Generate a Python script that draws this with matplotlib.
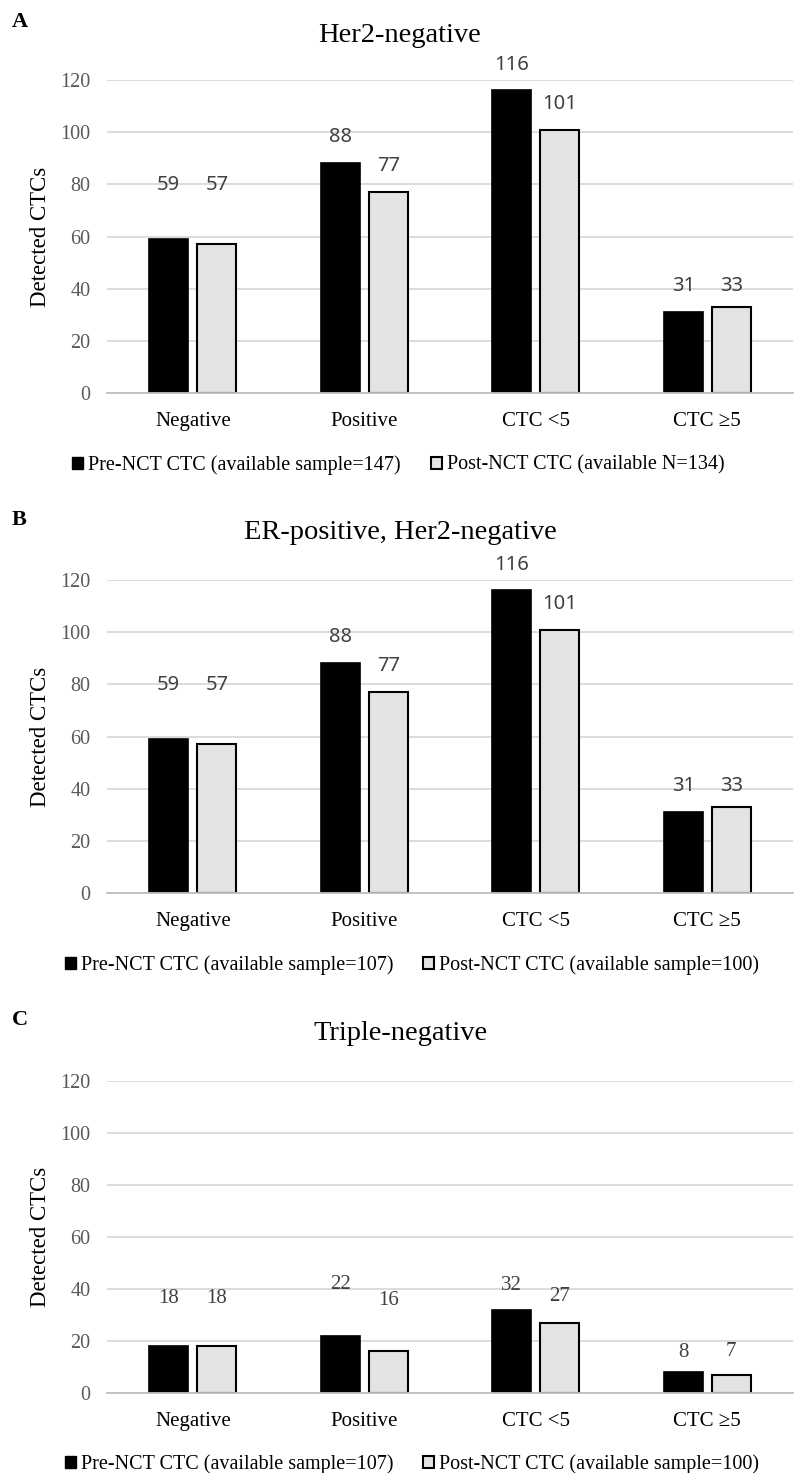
import matplotlib
matplotlib.use("Agg")
import matplotlib.pyplot as plt
from matplotlib.patches import Patch

categories = ["Negative", "Positive", "CTC <5", "CTC \u22655"]
titles = ["Her2-negative", "ER-positive, Her2-negative", "Triple-negative"]
letters = ["A", "B", "C"]
pre_values = [[59, 88, 116, 31], [59, 88, 116, 31], [18, 22, 32, 8]]
post_values = [[57, 77, 101, 33], [57, 77, 101, 33], [18, 16, 27, 7]]
pre_labels = ["Pre-NCT CTC (available sample=147)",
              "Pre-NCT CTC (available sample=107)",
              "Pre-NCT CTC (available sample=107)"]
post_labels = ["Post-NCT CTC (available N=134)",
               "Post-NCT CTC (available sample=100)",
               "Post-NCT CTC (available sample=100)"]
yticks = [0, 20, 40, 60, 80, 100, 120]

# label offsets above bar tops (pixels), style only
pre_off = [[54, 26, 25, 26], [54, 26, 25, 26], [48, 51, 24, 20]]
post_off = [[59, 26, 26, 21], [59, 26, 26, 21], [48, 51, 26, 23]]

W, H = 794, 1473
fig = plt.figure(figsize=(W / 100, H / 100), dpi=100)
serif = "Liberation Serif"
sans = "Noto Sans"

panel_bottoms = [393, 893, 1393]
panel_tops = [80, 580, 1081]
left_px, right_px = 107, 793
bw = 0.225
off = 0.14

for i in range(3):
    b, t = panel_bottoms[i], panel_tops[i]
    ax = fig.add_axes([left_px / W, 1 - b / H, (right_px - left_px) / W, (b - t) / H])
    x = list(range(len(categories)))
    xp = [v - off for v in x]
    xq = [v + off for v in x]
    bars1 = ax.bar(xp, pre_values[i], width=bw, color="black", edgecolor="black", linewidth=1.2, zorder=3)
    bars2 = ax.bar(xq, post_values[i], width=bw, color="#e3e3e3", edgecolor="black", linewidth=1.5, zorder=3)
    ax.set_xlim(-0.5, 3.5)
    ax.set_ylim(0, 120)
    ax.set_yticks(yticks)
    ax.set_yticklabels([str(v) for v in yticks], family=serif, fontsize=14.5, color="#595959")
    ax.set_xticks(x)
    ax.set_xticklabels(categories, family=serif, fontsize=15, color="black")
    ax.tick_params(axis="both", length=0)
    ax.tick_params(axis="x", pad=14)
    ax.tick_params(axis="y", pad=12)
    ax.grid(axis="y", color="#d9d9d9", linewidth=1.3, zorder=0)
    ax.set_axisbelow(True)
    for s in ["top", "right", "left"]:
        ax.spines[s].set_visible(False)
    ax.spines["bottom"].set_color("#bfbfbf")
    ax.spines["bottom"].set_linewidth(1.3)
    ax.spines["bottom"].set_zorder(4)
    ax.set_ylabel("Detected CTCs", family=serif, fontsize=16.5)
    ax.yaxis.set_label_coords(-0.082, 0.5)

    lab_font = serif if i == 2 else sans
    lab_size = 15 if i == 2 else 14.5
    for j, (bar, v) in enumerate(zip(bars1, pre_values[i])):
        ax.annotate(str(v), (bar.get_x() + bar.get_width() / 2, v),
                    xytext=(0, pre_off[i][j] * 0.72), textcoords="offset points",
                    ha="center", va="center", family=lab_font, fontsize=lab_size, color="#404040")
    for j, (bar, v) in enumerate(zip(bars2, post_values[i])):
        ax.annotate(str(v), (bar.get_x() + bar.get_width() / 2, v),
                    xytext=(0, post_off[i][j] * 0.72), textcoords="offset points",
                    ha="center", va="center", family=lab_font, fontsize=lab_size, color="#404040")

    title_y = [35, 533, 1033][i]
    fig.text(400 / W, 1 - title_y / H, titles[i], family=serif, fontsize=20.5,
             ha="center", va="center")
    letter_y = [22, 520, 1020][i]
    fig.text(12 / W, 1 - letter_y / H, letters[i], family=serif, fontsize=16,
             fontweight="bold", ha="left", va="center")

    handles = [Patch(facecolor="black", edgecolor="black", label=pre_labels[i]),
               Patch(facecolor="#e3e3e3", edgecolor="black", linewidth=1.5, label=post_labels[i])]
    leg_y = [465, 965, 1464][i]
    leg_x = [398, 412, 412][i]
    fig.legend(handles=handles, loc="center", bbox_to_anchor=(leg_x / W, 1 - leg_y / H),
               ncol=2, frameon=False, prop={"family": serif, "size": 14.5},
               handlelength=0.55, handleheight=0.55, handletextpad=0.25, columnspacing=1.5)

fig.savefig("out.png", dpi=100)
